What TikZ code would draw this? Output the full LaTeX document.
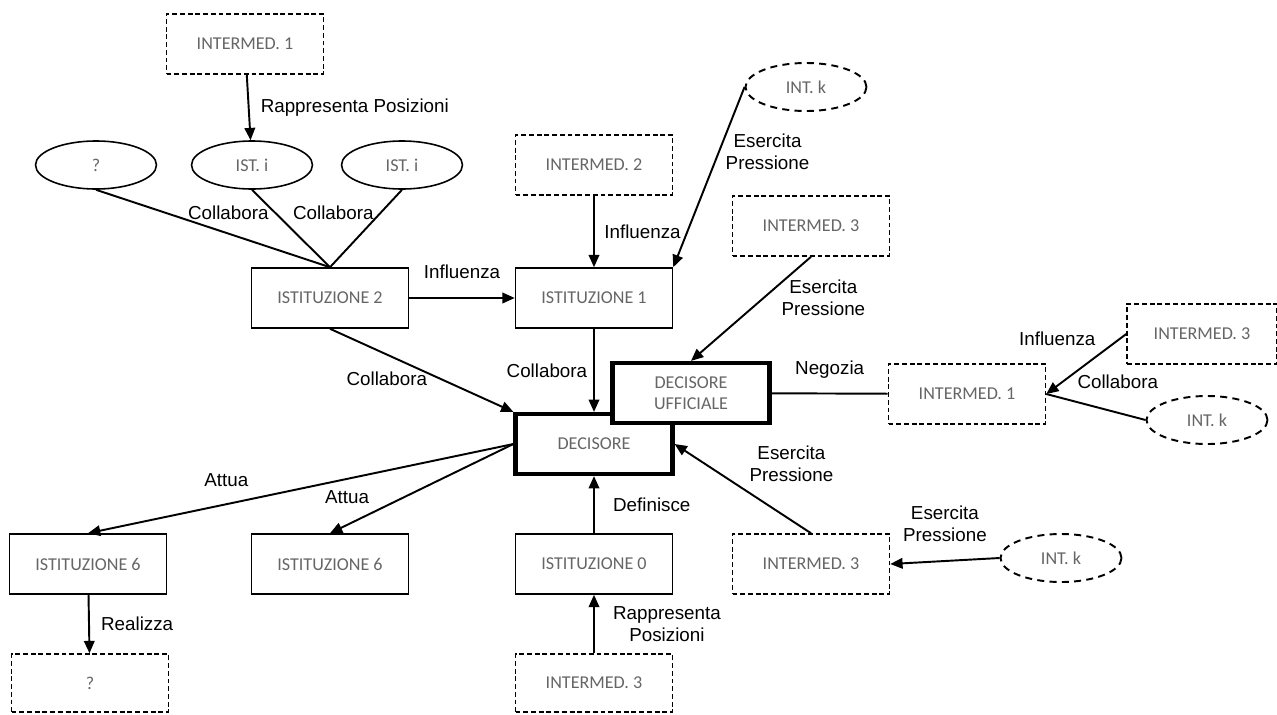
\documentclass[tikz,border=0pt]{standalone}
\usepackage{fontspec}
\setmainfont{Liberation Sans}
\newfontfamily\boxfont{Carlito}
\usetikzlibrary{arrows.meta,shapes.geometric}

\tikzset{
    box/.style={rectangle,draw=black,line width=0.9pt,fill=white,align=center,
        minimum width=3.14cm,minimum height=1.2cm,inner sep=1pt,
        text=black!60,font=\boxfont\fontsize{10.3}{12}\selectfont},
    inter/.style={box,dash pattern=on 2.8pt off 1.6pt},
    decbox/.style={box,line width=2.4pt},
    istell/.style={ellipse,draw=black,line width=0.9pt,fill=white,
        minimum width=2.42cm,minimum height=0.96cm,inner sep=0pt,
        text=black!60,font=\boxfont\fontsize{10.3}{12}\selectfont},
    intk/.style={istell,line width=1.1pt,dash pattern=on 4pt off 3pt},
}

\begin{document}
\begin{tikzpicture}[x=0.02cm,y=-0.02cm]
    \useasboundingbox (0,0) rectangle (1277,714);
    \draw
    (245,44) node[inter](im1t){INTERMED. 1}
    (96,165) node[istell](q){?}
    (252,165) node[istell](i1){IST. i}
    (402,165) node[istell](i2){IST. i}
    (330,298) node[box](ist2){ISTITUZIONE 2}
    (594,165) node[inter](im2){INTERMED. 2}
    (806,87) node[intk](kt){INT. k}
    (594,298) node[box](ist1){ISTITUZIONE 1}
    (811,226) node[inter](im3m){INTERMED. 3}
    (594,444) node[decbox](dec){DECISORE}
    (691,393) node[decbox](uff){DECISORE\\UFFICIALE}
    (967,394) node[inter](im1r){INTERMED. 1}
    (1202,334) node[inter,minimum width=3cm](fr){INTERMED. 3}
    (1207,420) node[intk](kr){INT. k}
    (1061,558) node[intk](kl){INT. k}
    (811,564) node[inter](im3l){INTERMED. 3}
    (594,564) node[box](ist0){ISTITUZIONE 0}
    (594,683) node[inter,minimum height=1.16cm](im3b){INTERMED. 3}
    (88,564) node[box](ist6l){ISTITUZIONE 6}
    (330,564) node[box](ist6m){ISTITUZIONE 6}
    (90,683) node[inter,minimum height=1.16cm](qb){?}
    ;
    \begin{scope}[
        every node/.style={font=\fontsize{10.7}{12.5}\selectfont,align=center},
        every edge/.style={-{Triangle[length=7pt,width=6pt]},draw=black,line width=1.1pt}]
        \path (im1t) edge node[right=3pt] {Rappresenta Posizioni} (i1);
        \path (q.south) edge[-] (ist2.north);
        \path (i1.south) edge[-] node[left,pos=.3] {Collabora} (ist2.north);
        \path (i2.south) edge[-] node[left,pos=.3] {Collabora} (ist2.north);
        \path (ist2) edge node[above=7pt] {Influenza} (ist1);
        \path (im2) edge node[right=2pt] {Influenza} (ist1);
        \path (kt.west) edge node[right,pos=.36] {Esercita\\Pressione} (ist1.north east);
        \path (im3m.south) edge node[right=6pt,pos=.39] {Esercita\\Pressione} (uff.north);
        \path (ist1) edge node[left] {Collabora} (dec);
        \path (ist2.south) edge node[left=3.5pt,pos=.6] {Collabora} (dec.north west);
        \path (uff) edge[-] node[above=5pt] {Negozia} (im1r);
        \path (fr.west) edge node[above left,pos=.3] {Influenza} (im1r.east);
        \path (im1r.east) edge[-] node[above=10pt,pos=.72] {Collabora} (kr.west);
        \path (dec.west) edge node[above=6pt,pos=.675] {Attua} (ist6l.north);
        \path (dec.west) edge node[above left,pos=.75] {Attua} (ist6m.north);
        \path (ist0) edge node[right=7pt] {Definisce} (dec);
        \path (im3l.north) edge node[above right,pos=.5] {Esercita\\Pressione} (dec.east);
        \path (kl.west) edge node[above=7pt] {Esercita\\Pressione} (im3l.east);
        \path (im3b) edge node[right=7pt] {Rappresenta\\Posizioni} (ist0);
        \path (ist6l) edge node[right=3pt] {Realizza} (qb);
    \end{scope}
\end{tikzpicture}
\end{document}
